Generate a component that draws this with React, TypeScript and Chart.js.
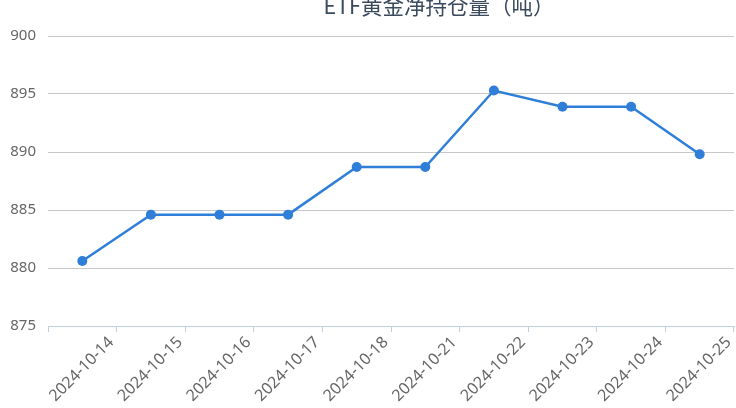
import { useEffect, useRef } from "react";
import { Chart, registerables } from "chart.js";

Chart.register(...registerables);

const TITLE = "ETF黄金净持仓量（吨）";

const dates = [
  "2024-10-14",
  "2024-10-15",
  "2024-10-16",
  "2024-10-17",
  "2024-10-18",
  "2024-10-21",
  "2024-10-22",
  "2024-10-23",
  "2024-10-24",
  "2024-10-25",
];

const holdings = [880.6, 884.6, 884.6, 884.6, 888.7, 888.7, 895.3, 893.9, 893.9, 889.8];

const Y_MIN = 875;
const Y_MAX = 900;
const Y_STEP = 5;

const LINE_COLOR = "#2f7ed8";
const LABEL_COLOR = "#666666";
const FONT = '"Noto Sans", "Noto Sans CJK SC", sans-serif';

// the title sits off-centre and partly above the top edge in the reference
const titlePlugin = {
  id: "offsetTitle",
  afterDraw(chart: Chart) {
    const { ctx } = chart;
    ctx.save();
    ctx.font = '21.5px "Noto Sans CJK SC", sans-serif';
    ctx.fillStyle = "#3a4b5e";
    ctx.textAlign = "center";
    ctx.textBaseline = "middle";
    ctx.fillText(TITLE, 439, 6);
    ctx.restore();
  },
};

export default function App() {
  const canvasRef = useRef<HTMLCanvasElement | null>(null);

  useEffect(() => {
    const canvas = canvasRef.current;
    if (!canvas) return;

    const chart = new Chart(canvas, {
      type: "line",
      data: {
        labels: dates,
        datasets: [
          {
            label: TITLE,
            data: holdings,
            borderColor: LINE_COLOR,
            backgroundColor: LINE_COLOR,
            borderWidth: 2.5,
            pointRadius: 5,
            pointBorderWidth: 0,
            pointBackgroundColor: LINE_COLOR,
            tension: 0,
          },
        ],
      },
      options: {
        animation: false,
        responsive: true,
        maintainAspectRatio: false,
        layout: { autoPadding: false, padding: { top: 36, right: 2, left: 0, bottom: 0 } },
        plugins: {
          legend: { display: false },
          title: { display: false },
          tooltip: { enabled: false },
        },
        scales: {
          x: {
            offset: true,
            grid: {
              offset: true,
              drawOnChartArea: false,
              drawTicks: true,
              tickLength: 6,
              color: "#c0d0e0",
            },
            border: { color: "#c0d0e0", width: 1 },
            ticks: {
              autoSkip: false,
              minRotation: 45,
              maxRotation: 45,
              labelOffset: 29,
              padding: 1,
              color: LABEL_COLOR,
              font: { family: FONT, size: 16 },
            },
            afterFit: (scale) => {
              scale.height = 82;
              // rotated labels would otherwise pull the plot in from the right
              scale.paddingLeft = 0;
              scale.paddingRight = 0;
            },
          },
          y: {
            min: Y_MIN,
            max: Y_MAX,
            ticks: {
              stepSize: Y_STEP,
              padding: 12,
              color: LABEL_COLOR,
              font: { family: FONT, size: 15 },
            },
            grid: { color: "#c8c8c8", drawTicks: false },
            border: { display: false },
            afterFit: (scale) => {
              scale.width = 48;
            },
          },
        },
      },
      plugins: [titlePlugin],
    });

    return () => chart.destroy();
  }, []);

  return (
    <div style={{ position: "fixed", left: 0, top: 0, width: 736, height: 408, background: "#fff" }}>
      <canvas ref={canvasRef} />
    </div>
  );
}
